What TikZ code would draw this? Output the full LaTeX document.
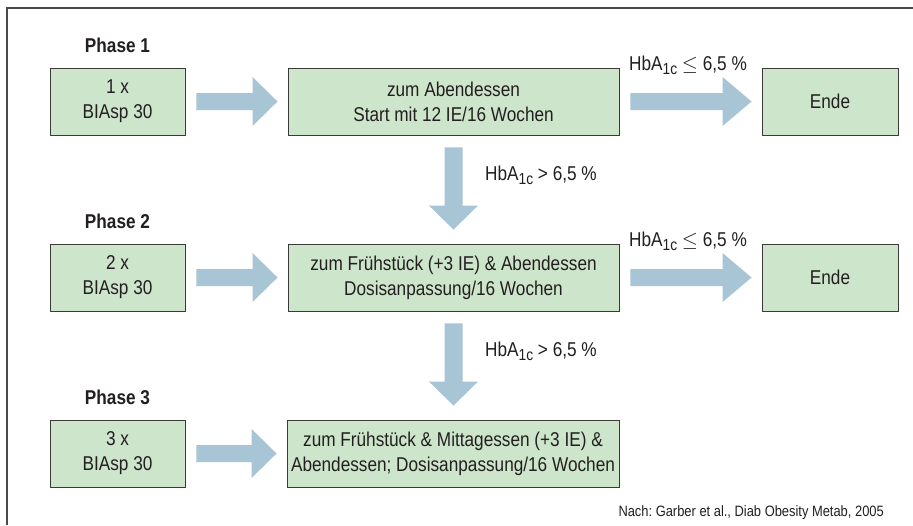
\documentclass[tikz,border=0pt]{standalone}
\usepackage{fontspec}
\setmainfont{Liberation Sans}[FakeStretch=0.86]
\usetikzlibrary{calc}
\definecolor{boxfill}{HTML}{CDE5CB}
\definecolor{boxline}{HTML}{3A3A3A}
\definecolor{arrfill}{HTML}{A7C5D5}
\definecolor{txt}{HTML}{231F20}
\definecolor{frame}{HTML}{4A4A4A}
\newcommand{\fatH}[3]{%
  \fill[arrfill] let \p1=#1, \p2=#2 in
    (\x1,{\y1+8.5pt}) -- ({\x2-#3},{\y1+8.5pt}) -- ({\x2-#3},{\y1+24.5pt}) --
    (\x2,\y1) -- ({\x2-#3},{\y1-24.5pt}) -- ({\x2-#3},{\y1-8.5pt}) --
    (\x1,{\y1-8.5pt}) -- cycle;}
\newcommand{\fatV}[3]{%
  \fill[arrfill] let \p1=#1, \p2=#2 in
    ({\x1-9pt},\y1) -- ({\x1-9pt},{\y2+#3}) -- ({\x1-24.5pt},{\y2+#3}) --
    (\x1,\y2) -- ({\x1+24.5pt},{\y2+#3}) -- ({\x1+9pt},{\y2+#3}) --
    ({\x1+9pt},\y1) -- cycle;}
\newcommand{\hba}{HbA\raisebox{-4.5pt}{\fontsize{16}{16}\selectfont 1c}}
\frenchspacing
\begin{document}
\begin{tikzpicture}[x=1pt,y=-1pt,
  every node/.style={text=txt},
  pbox/.style={draw=boxline, fill=boxfill, line width=0.9pt, inner sep=0pt,
    minimum height=67pt, align=center, font=\fontsize{20}{25}\selectfont},
  phase/.style={anchor=base, font=\fontsize{20}{22}\selectfont\bfseries, inner sep=0pt},
  cond/.style={anchor=base west, font=\fontsize{20}{22}\selectfont, inner sep=0pt},
  note/.style={anchor=base east, font=\fontsize{15}{17}\selectfont, inner sep=0pt}]
\useasboundingbox (0,0) rectangle (913,525);
\fill[white] (0,0) rectangle (913,525);
\draw[frame, line width=1.5pt] (7,525) -- (7,8) -- (913,8);

% Row 1
\node[phase] (p1) at (117.5,52) {Phase 1};
\node[pbox, minimum width=135pt] (a1) at (117.5,101.5) {1 x\\BIAsp 30};
\node[pbox, minimum width=331pt] (b1) at (453.5,101.5) {zum Abendessen\\Start mit 12 IE/16 Wochen};
\node[pbox, minimum width=136pt] (e1) at (830,101.5) {Ende};
\node[cond] (c1) at (629,70) {\hba{} $\leq$ 6,5 \%};

% Row 2
\node[phase] (p2) at (117.5,228) {Phase 2};
\node[pbox, minimum width=135pt] (a2) at (117.5,277.5) {2 x\\BIAsp 30};
\node[pbox, minimum width=331pt] (b2) at (453.5,277.5) {zum Frühstück (+3 IE) \& Abendessen\\Dosisanpassung/16 Wochen};
\node[pbox, minimum width=136pt] (e2) at (830,277.5) {Ende};
\node[cond] (c2) at (629,246) {\hba{} $\leq$ 6,5 \%};
\node[cond] (d1) at (485,180) {\hba{} > 6,5 \%};

% Row 3
\node[phase] (p3) at (117.5,404) {Phase 3};
\node[pbox, minimum width=135pt] (a3) at (117.5,453.5) {3 x\\BIAsp 30};
\node[pbox, minimum width=332pt] (b3) at (453,453.5) {zum Frühstück \& Mittagessen (+3 IE) \&\\Abendessen; Dosisanpassung/16 Wochen};
\node[cond] (d2) at (485,356) {\hba{} > 6,5 \%};

% Arrows
\fatH{([xshift=11pt]a1.east)}{([xshift=-10pt]b1.west)}{25pt}
\fatH{([xshift=11pt]b1.east)}{([xshift=-10pt]e1.west)}{29pt}
\fatH{([xshift=11pt]a2.east)}{([xshift=-10pt]b2.west)}{25pt}
\fatH{([xshift=11pt]b2.east)}{([xshift=-10pt]e2.west)}{29pt}
\fatH{([xshift=11pt]a3.east)}{([xshift=-10pt]b3.west)}{25pt}
\fatV{([yshift=-12pt]b1.south)}{([yshift=14pt]b2.north)}{24pt}
\fatV{([yshift=-12pt]b2.south)}{([yshift=14pt]b3.north)}{24pt}

\node[note] (n) at (884,516) {Nach: Garber et al., Diab Obesity Metab, 2005};
\end{tikzpicture}
\end{document}
